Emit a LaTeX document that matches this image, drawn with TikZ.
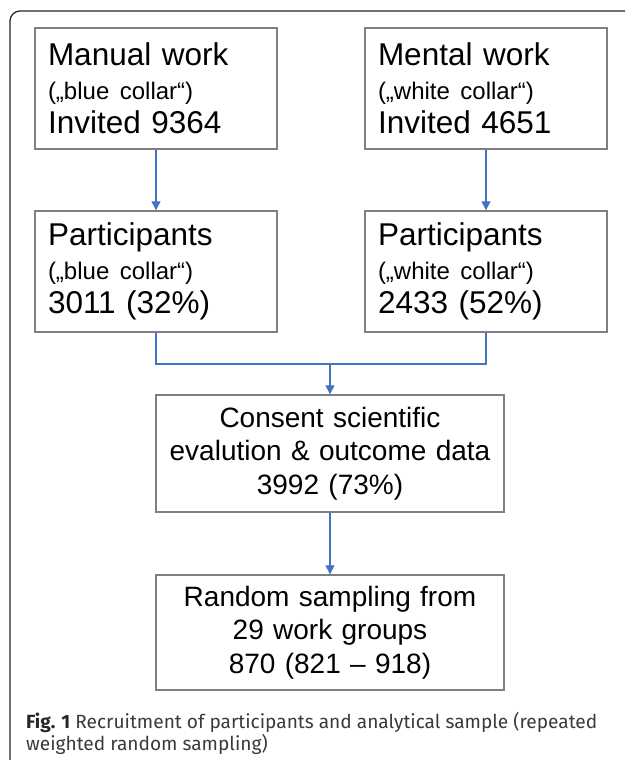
\documentclass[tikz,border=0pt]{standalone}
\usepackage{fontspec}
\setmainfont{Liberation Sans}
\newfontfamily\capfont{Fira Sans}
\usetikzlibrary{arrows.meta,positioning}
\definecolor{boxgray}{HTML}{7F7F7F}
\definecolor{arrowblue}{HTML}{4472C4}
\definecolor{framegray}{HTML}{262626}
\definecolor{capgray}{HTML}{3A3A3A}
\newcommand{\collar}[1]{{\fontsize{24}{30}\selectfont #1}}
\tikzset{
	stagebox/.style={draw=boxgray, line width=1.4pt, minimum width=242pt, minimum height=121pt,
		text width=216pt, align=left, inner sep=0pt, font=\fontsize{31.5}{33.8}\selectfont},
	poolbox/.style={draw=boxgray, line width=1.4pt, minimum width=348pt, minimum height=117pt,
		text width=340pt, align=center, inner sep=0pt, font=\fontsize{28}{33.5}\selectfont},
	flow/.style={draw=arrowblue, line width=1.3pt, -{Triangle[length=9pt,width=9pt]}},
	merge/.style={draw=arrowblue, line width=1.3pt},
}
\begin{document}
\begin{tikzpicture}[x=1pt,y=1pt]
	\useasboundingbox (0,0) rectangle (625,-760);
	\clip (0,0) rectangle (625,-760);
	% frame round the figure
	\draw[framegray, line width=1.3pt, rounded corners=10pt] (10,-775) -- (10,-11) -- (640,-11);

	\node[stagebox] (manual) at (156,-88.5) {Manual work\\ \collar{(„blue collar“)}\\ Invited 9364};
	\node[stagebox] (mental) at (486,-88.5) {Mental work\\ \collar{(„white collar“)}\\ Invited 4651};
	\node[stagebox] (bluep) at (156,-271.5) {Participants\\ \collar{(„blue collar“)}\\ 3011 (32\%)};
	\node[stagebox] (whitep) at (486,-271.5) {Participants\\ \collar{(„white collar“)}\\ 2433 (52\%)};
	\node[poolbox] (consent) at (330,-453.5) {Consent scientific\\ evalution \& outcome data\\ 3992 (73\%)};
	\node[poolbox, minimum height=115pt] (sample) at (330,-632.5) {Random sampling from\\ 29 work groups\\ 870 (821 – 918)};

	\coordinate (join) at (330,-364);
	\draw[flow] (manual) -- (bluep);
	\draw[flow] (mental) -- (whitep);
	\draw[merge] (bluep.south) |- (join) -| (whitep.south);
	\draw[flow] (join) -- (consent);
	\draw[flow] (consent) -- (sample);

	% caption
	\node[anchor=north west, inner sep=0pt, align=left, text=capgray,
		font=\capfont\fontsize{19.1}{21.7}\selectfont] (caption) at (26,-712.5)
		{{\bfseries\color{black!85} Fig. 1} Recruitment of participants and analytical sample (repeated\\ weighted random sampling)};
\end{tikzpicture}
\end{document}
